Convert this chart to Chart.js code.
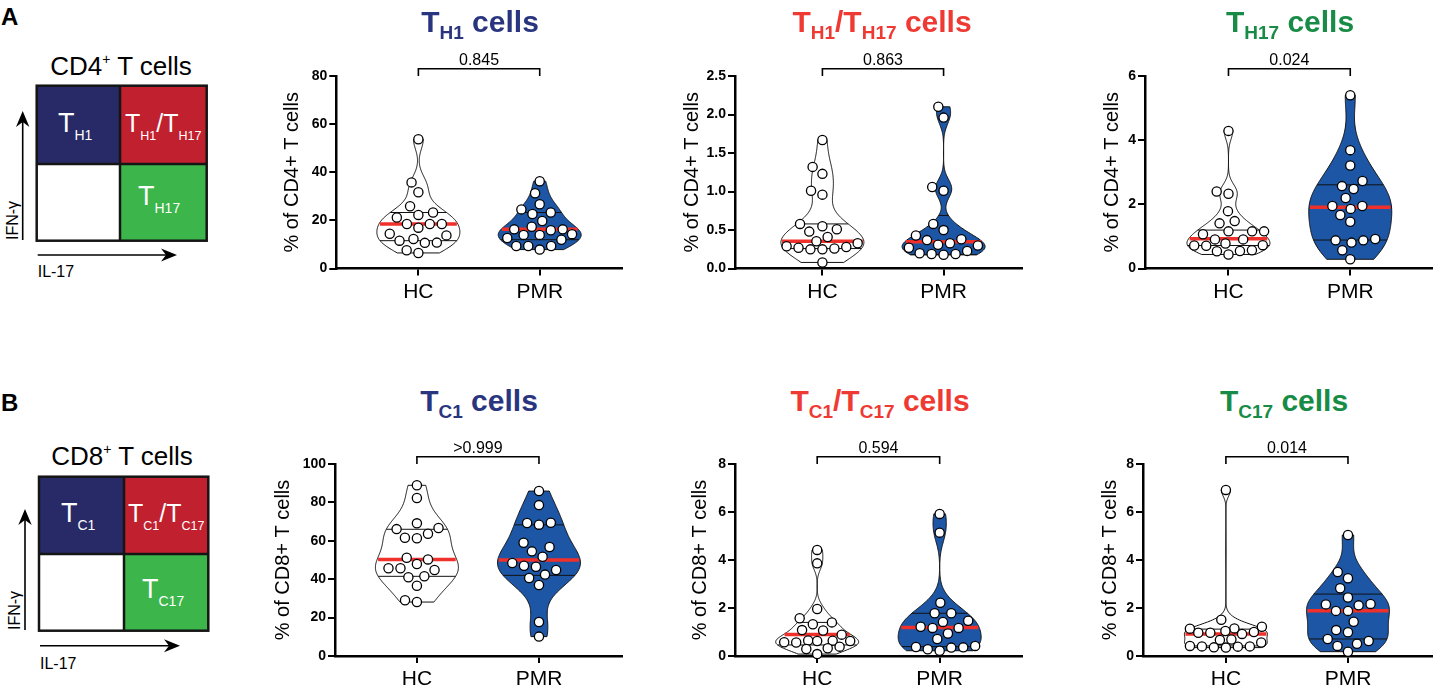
<!DOCTYPE html>
<html><head><meta charset="utf-8">
<title>T helper / cytotoxic subsets violin plots</title>
<script src="https://cdn.jsdelivr.net/npm/chart.js@4.4.1/dist/chart.umd.min.js"></script>
<style>
html,body{margin:0;padding:0;background:#fff}
body{width:1436px;height:689px;position:relative;overflow:hidden;font-family:"Liberation Sans",Arial,Helvetica,sans-serif}
canvas{position:absolute}
.title{position:absolute;font-weight:bold;font-size:30px;line-height:30px;white-space:nowrap;transform:translateX(-50%)}
.title sub{font-size:19px;line-height:1;vertical-align:-7px}
svg.schem{position:absolute;left:0;top:0}
</style></head>
<body>
<svg class="schem" width="260" height="689" viewBox="0 0 260 689" font-family="Liberation Sans, Arial, Helvetica, sans-serif">
  <!-- Panel A schematic -->
  <text x="1" y="25" font-size="24" font-weight="bold">A</text>
  <text x="121" y="75" font-size="26" text-anchor="middle">CD4<tspan font-size="14" dy="-11">+</tspan><tspan dy="11"> T cells</tspan></text>
  <rect x="36.7" y="85.7" width="83.3" height="78.3" fill="#272a66"/>
  <rect x="120" y="85.7" width="86.7" height="78.3" fill="#c1202f"/>
  <rect x="120" y="164" width="86.7" height="76.7" fill="#3cb54a"/>
  <rect x="36.7" y="85.7" width="170" height="155" fill="none" stroke="#151515" stroke-width="2.5"/>
  <line x1="120" y1="85.7" x2="120" y2="240.7" stroke="#151515" stroke-width="2.5"/>
  <line x1="36.7" y1="164" x2="206.7" y2="164" stroke="#151515" stroke-width="2.5"/>
  <text x="58" y="132" font-size="27" fill="#fff">T<tspan font-size="14" dy="8">H1</tspan></text>
  <text x="125" y="132" font-size="25" fill="#fff">T<tspan font-size="12.5" dy="8">H1</tspan><tspan dy="-8">/T</tspan><tspan font-size="12.5" dy="8">H17</tspan></text>
  <text x="138" y="205" font-size="27" fill="#fff">T<tspan font-size="14" dy="8">H17</tspan></text>
  <line x1="22.7" y1="240" x2="22.7" y2="118" stroke="#000" stroke-width="1.6"/>
  <polygon points="22.7,111 16,127 22.7,122 29.4,127" fill="#000"/>
  <line x1="37.7" y1="255" x2="170" y2="255" stroke="#000" stroke-width="1.6"/>
  <polygon points="177,255 161,248.5 166,255 161,261.5" fill="#000"/>
  <text transform="translate(17.5,240) rotate(-90)" font-size="16">IFN-γ</text>
  <text x="37.7" y="277" font-size="16">IL-17</text>

  <!-- Panel B schematic -->
  <text x="1" y="411" font-size="24" font-weight="bold">B</text>
  <text x="122" y="465" font-size="26" text-anchor="middle">CD8<tspan font-size="14" dy="-11">+</tspan><tspan dy="11"> T cells</tspan></text>
  <rect x="39" y="476.7" width="85" height="77.3" fill="#272a66"/>
  <rect x="124" y="476.7" width="84.3" height="77.3" fill="#c1202f"/>
  <rect x="124" y="554" width="84.3" height="76.7" fill="#3cb54a"/>
  <rect x="39" y="476.7" width="169.3" height="154" fill="none" stroke="#151515" stroke-width="2.5"/>
  <line x1="124" y1="476.7" x2="124" y2="630.7" stroke="#151515" stroke-width="2.5"/>
  <line x1="39" y1="554" x2="208.3" y2="554" stroke="#151515" stroke-width="2.5"/>
  <text x="61" y="522" font-size="27" fill="#fff">T<tspan font-size="14" dy="8">C1</tspan></text>
  <text x="128" y="522" font-size="25" fill="#fff">T<tspan font-size="12.5" dy="8">C1</tspan><tspan dy="-8">/T</tspan><tspan font-size="12.5" dy="8">C17</tspan></text>
  <text x="142" y="598" font-size="27" fill="#fff">T<tspan font-size="14" dy="8">C17</tspan></text>
  <line x1="25" y1="630" x2="25" y2="516" stroke="#000" stroke-width="1.6"/>
  <polygon points="25,509 18.3,525 25,520 31.7,525" fill="#000"/>
  <line x1="40" y1="645.7" x2="173" y2="645.7" stroke="#000" stroke-width="1.6"/>
  <polygon points="180,645.7 164,639.2 169,645.7 164,652.2" fill="#000"/>
  <text transform="translate(19.5,630) rotate(-90)" font-size="16">IFN-γ</text>
  <text x="40" y="669" font-size="16">IL-17</text>
</svg>

<canvas id="c0"></canvas><canvas id="c1"></canvas><canvas id="c2"></canvas>
<canvas id="c3"></canvas><canvas id="c4"></canvas><canvas id="c5"></canvas>

<div class="title" style="left:480px;top:6.6px;color:#2a3580">T<sub>H1</sub> cells</div>
<div class="title" style="left:882px;top:6.6px;color:#ef3a34">T<sub>H1</sub>/T<sub>H17</sub> cells</div>
<div class="title" style="left:1290px;top:6.6px;color:#188c46">T<sub>H17</sub> cells</div>
<div class="title" style="left:479px;top:385.6px;color:#2a3580">T<sub>C1</sub> cells</div>
<div class="title" style="left:880px;top:385.6px;color:#ef3a34">T<sub>C1</sub>/T<sub>C17</sub> cells</div>
<div class="title" style="left:1284px;top:385.6px;color:#188c46">T<sub>C17</sub> cells</div>

<script>
// ---------------- DATA ----------------
const categories = ['HC', 'PMR'];
const yTitles = ['% of CD4+ T cells', '% of CD8+ T cells'];
const pValues = ['0.845', '0.863', '0.024', '>0.999', '0.594', '0.014'];

// A: TH1 cells (% of CD4+ T cells)
const th1HC  = [53.7,35.8,31.7,25.9,23.3,22.3,21.2,18.5,18.5,18.5,17.0,14.5,13.8,12.3,11.6,10.8,10.7,7.6,6.5];
const th1PMR = [36.3,31.3,26.7,24.6,23.3,22.7,19.8,17.4,16.3,16.3,15.9,14.3,14.0,14.0,12.7,12.0,9.4,9.4,9.4,7.9];
const th1HCStats  = [11.6, 18.5, 23.3];   // Q1, median, Q3
const th1PMRStats = [12.0, 16.3, 23.3];
const th1Ticks = [0, 20, 40, 60, 80];

// A: TH1/TH17 cells
const th1th17HC  = [1.67,1.32,1.23,1.01,0.96,0.58,0.55,0.51,0.48,0.41,0.355,0.33,0.29,0.28,0.27,0.26,0.25,0.25,0.08];
const th1th17PMR = [2.10,1.96,1.06,1.01,0.58,0.50,0.43,0.38,0.37,0.33,0.31,0.30,0.27,0.23,0.20,0.19,0.19,0.18];
const th1th17HCStats  = [0.26, 0.355, 0.58];
const th1th17PMRStats = [0.18, 0.35, 0.69];
const th1th17Ticks = [0, 0.5, 1.0, 1.5, 2.0, 2.5];

// A: TH17 cells
const th17HC  = [4.29,2.40,2.33,1.79,1.48,1.41,1.16,1.16,1.16,1.07,0.91,0.91,0.78,0.73,0.72,0.71,0.57,0.55,0.54,0.44];
const th17PMR = [5.40,3.69,3.21,2.73,2.57,2.48,2.20,1.95,1.95,1.86,1.67,1.46,0.92,0.88,0.88,0.81,0.57,0.29];
const th17HCStats  = [0.72, 0.93, 1.20];
const th17PMRStats = [0.89, 1.91, 2.61];
const th17Ticks = [0, 2, 4, 6];

// B: TC1 cells (% of CD8+ T cells)
const tc1HC  = [88.9,82.3,69.1,66.7,66.1,63.7,61.6,61.3,51.2,50.3,47.9,45.7,45.7,44.8,41.5,41.0,36.6,29.0,28.1];
const tc1PMR = [85.9,78.6,69.4,69.3,68.4,59.0,56.8,54.5,51.7,48.4,47.0,46.5,44.8,42.4,40.6,37.0,17.7,10.1];
const tc1HCStats  = [41.5, 50.2, 66.0];
const tc1PMRStats = [42.0, 50.0, 68.3];
const tc1Ticks = [0, 20, 40, 60, 80, 100];

// B: TC1/TC17 cells
const tc1tc17HC  = [4.42,3.86,1.96,1.57,1.40,1.32,1.08,1.06,0.89,0.65,0.64,0.625,0.625,0.57,0.56,0.39,0.32,0.29,0.08];
const tc1tc17PMR = [5.92,5.14,2.22,1.78,1.78,1.47,1.42,1.22,1.17,1.17,0.94,0.71,0.42,0.375,0.36,0.35,0.28,0.22];
const tc1tc17HCStats  = [0.46, 0.90, 1.40];
const tc1tc17PMRStats = [0.39, 1.19, 1.78];
const tc1tc17Ticks = [0, 2, 4, 6, 8];

// B: TC17 cells
const tc17HC  = [6.92,1.51,1.22,1.15,1.14,1.04,1.00,0.97,0.97,0.92,0.69,0.67,0.56,0.42,0.40,0.40,0.39,0.36,0.35];
const tc17PMR = [5.04,3.50,3.24,2.82,2.44,2.17,2.15,2.11,1.88,1.88,1.43,1.08,0.99,0.71,0.625,0.51,0.42,0.18];
const tc17HCStats  = [0.42, 0.92, 1.12];
const tc17PMRStats = [0.71, 1.89, 2.58];
const tc17Ticks = [0, 2, 4, 6, 8];

// ---------------- STYLE / LAYOUT ----------------
const FONT = '"Liberation Sans", Arial, Helvetica, sans-serif';
const groupFill = ['#ffffff', '#1d56a5'];
const panels = [
  {id:'c0', vals:[th1HC, th1PMR], stats:[th1HCStats, th1PMRStats], ticks:th1Ticks, dec:0, p:pValues[0], yt:yTitles[0], ax:336,  top:75.7, bot:268.3, tx:291.7, xmin:0.3236, xmax:2.679, dashed:false},
  {id:'c1', vals:[th1th17HC, th1th17PMR], stats:[th1th17HCStats, th1th17PMRStats], ticks:th1th17Ticks, dec:1, p:pValues[1], yt:yTitles[0], ax:735, top:75.7, bot:268.3, tx:692, xmin:0.2786, xmax:2.648, dashed:false},
  {id:'c2', vals:[th17HC, th17PMR], stats:[th17HCStats, th17PMRStats], ticks:th17Ticks, dec:0, p:pValues[2], yt:yTitles[0], ax:1145, top:75.7, bot:268.3, tx:1112, xmin:0.3146, xmax:2.672, dashed:false},
  {id:'c3', vals:[tc1HC, tc1PMR], stats:[tc1HCStats, tc1PMRStats], ticks:tc1Ticks, dec:0, p:pValues[3], yt:yTitles[1], ax:335, top:464, bot:656, tx:283, xmin:0.329, xmax:2.681, dashed:true},
  {id:'c4', vals:[tc1tc17HC, tc1tc17PMR], stats:[tc1tc17HCStats, tc1tc17PMRStats], ticks:tc1tc17Ticks, dec:0, p:pValues[4], yt:yTitles[1], ax:735, top:464, bot:656, tx:700, xmin:0.329, xmax:2.673, dashed:true},
  {id:'c5', vals:[tc17HC, tc17PMR], stats:[tc17HCStats, tc17PMRStats], ticks:tc17Ticks, dec:0, p:pValues[5], yt:yTitles[1], ax:1143, top:464, bot:656, tx:1110, xmin:0.321, xmax:2.689, dashed:true}
];
const AXIS_END = {336:625, 735:1025, 1145:1435, 335:625, 1143:1435};
const PAD_TOP = 40, XAXIS_H = 44, PAD_RIGHT = 3;
const HALF_W_PX = 41.5;

function makeKde(vals) {
  const n = vals.length;
  const mean = vals.reduce((a, b) => a + b, 0) / n;
  const sd = Math.sqrt(vals.reduce((a, b) => a + (b - mean) ** 2, 0) / (n - 1));
  const s = [...vals].sort((a, b) => a - b);
  const q = p => { const i = (n - 1) * p, lo = Math.floor(i); return s[lo] + (s[Math.min(lo + 1, n - 1)] - s[lo]) * (i - lo); };
  const iqr = q(0.75) - q(0.25);
  const h = 0.9 * Math.min(sd, iqr / 1.34) * Math.pow(n, -0.2);
  return v => vals.reduce((a, x) => a + Math.exp(-0.5 * ((v - x) / h) ** 2), 0);
}

function violinPlugin(P) {
  return {
    id: 'violin',
    beforeDatasetsDraw(chart) {
      const {ctx, scales: {x, y}} = chart;
      P.vals.forEach((vals, gi) => {
        const cx = x.getPixelForValue(gi + 1);
        const kde = makeKde(vals);
        const lo = Math.min(...vals), hi = Math.max(...vals);
        const N = 160, pts = [];
        let maxD = 0;
        for (let k = 0; k <= N; k++) {
          const v = lo + (hi - lo) * k / N;
          const d = kde(v);
          maxD = Math.max(maxD, d);
          pts.push([v, d]);
        }
        const wAt = v => kde(v) / maxD * HALF_W_PX;
        ctx.save();
        ctx.beginPath();
        pts.forEach(([v, d], k) => {
          const px = cx - d / maxD * HALF_W_PX, py = y.getPixelForValue(v);
          k ? ctx.lineTo(px, py) : ctx.moveTo(px, py);
        });
        for (let k = pts.length - 1; k >= 0; k--) {
          const [v, d] = pts[k];
          ctx.lineTo(cx + d / maxD * HALF_W_PX, y.getPixelForValue(v));
        }
        ctx.closePath();
        ctx.fillStyle = groupFill[gi];
        ctx.fill();
        ctx.strokeStyle = '#111';
        ctx.lineWidth = 1;
        ctx.stroke();
        const [q1, med, q3] = P.stats[gi];
        [q1, q3].forEach(v => {
          const w = wAt(v), py = y.getPixelForValue(v);
          ctx.beginPath(); ctx.moveTo(cx - w, py); ctx.lineTo(cx + w, py);
          ctx.lineWidth = 1; ctx.strokeStyle = '#111'; ctx.stroke();
        });
        const wm = wAt(med) - 1, pm = y.getPixelForValue(med);
        ctx.beginPath(); ctx.moveTo(cx - wm, pm); ctx.lineTo(cx + wm, pm);
        ctx.lineWidth = 3.5; ctx.strokeStyle = '#f0302a'; ctx.stroke();
        ctx.restore();
      });
    }
  };
}

function bracketPlugin(P) {
  return {
    id: 'bracket',
    afterDraw(chart) {
      const {ctx, chartArea, scales: {x}} = chart;
      const x1 = x.getPixelForValue(1), x2 = x.getPixelForValue(2);
      const yb = chartArea.top - 7.3, yt = chartArea.top;
      ctx.save();
      ctx.strokeStyle = '#000'; ctx.lineWidth = 1.6;
      ctx.beginPath(); ctx.moveTo(x1, yt); ctx.lineTo(x1, yb); ctx.lineTo(x2, yb); ctx.lineTo(x2, yt); ctx.stroke();
      ctx.fillStyle = '#000'; ctx.font = '16px ' + FONT;
      ctx.textAlign = 'center'; ctx.textBaseline = 'alphabetic';
      ctx.fillText(P.p, (x1 + x2) / 2, yb - 4);
      ctx.restore();
    }
  };
}

// beeswarm layout of the points (pixel space), bounded so points stay within the violin
function swarm(chart, P) {
  const {x, y} = chart.scales;
  const pxPerX = x.getPixelForValue(2) - x.getPixelForValue(1);
  const D = 12, MAXX = 36;
  chart.data.datasets.forEach((ds, gi) => {
    const vals = P.vals[gi];
    const order = vals.map((v, j) => j).sort((a, b) => vals[a] - vals[b]);
    const placed = [], xs = new Array(vals.length);
    order.forEach(j => {
      const py = y.getPixelForValue(vals[j]);
      const near = placed.filter(p => Math.abs(p.y - py) < D);
      const cands = [0];
      near.forEach(p => { const dx = Math.sqrt(D * D - (p.y - py) ** 2); cands.push(p.x + dx, p.x - dx); });
      cands.sort((a, b) => Math.abs(a) - Math.abs(b) || a - b);
      let best = cands.find(c => Math.abs(c) <= MAXX && near.every(p => (p.x - c) ** 2 + (p.y - py) ** 2 >= D * D - 0.01));
      if (best === undefined) {
        let bestScore = -1;
        for (let c = -MAXX; c <= MAXX; c += 0.5) {
          const m = Math.min(...near.map(p => Math.hypot(p.x - c, p.y - py)));
          if (m > bestScore + 1e-6 || (Math.abs(m - bestScore) < 1e-6 && Math.abs(c) < Math.abs(best))) { bestScore = m; best = c; }
        }
      }
      placed.push({x: best, y: py});
      xs[j] = best;
    });
    ds.data = vals.map((v, j) => ({x: gi + 1 + xs[j] / pxPerX, y: v}));
  });
  chart.update('none');
}

panels.forEach(P => {
  const cv = document.getElementById(P.id);
  const canvasLeft = P.tx - 12;
  const yW = P.ax - canvasLeft;
  const plotW = AXIS_END[P.ax] - P.ax;
  const W = Math.round(yW + plotW + PAD_RIGHT);
  const H = Math.round(PAD_TOP + (P.bot - P.top) + XAXIS_H);
  cv.style.left = canvasLeft + 'px';
  cv.style.top = (P.top - PAD_TOP) + 'px';
  cv.width = W; cv.height = H;
  cv.style.width = W + 'px'; cv.style.height = H + 'px';
  const xAxisH = H - PAD_TOP - (P.bot - P.top);

  const chart = new Chart(cv, {
    type: 'scatter',
    data: {
      datasets: P.vals.map((vals, gi) => ({
        label: categories[gi],
        data: vals.map(v => ({x: gi + 1, y: v})),
        pointRadius: 4.6,
        pointHoverRadius: 4.6,
        pointBackgroundColor: '#ffffff',
        pointBorderColor: '#000000',
        pointBorderWidth: 1.3,
        clip: false
      }))
    },
    options: {
      responsive: false,
      animation: false,
      events: [],
      layout: {padding: {top: PAD_TOP, right: W - yW - plotW, left: 0, bottom: 0}},
      plugins: {legend: {display: false}, tooltip: {enabled: false}},
      scales: {
        x: {
          type: 'linear', min: P.xmin, max: P.xmax,
          afterBuildTicks: s => { s.ticks = [{value: 1}, {value: 2}]; },
          afterFit: s => { s.height = xAxisH; },
          ticks: {callback: v => categories[Math.round(v) - 1], font: {family: FONT, size: 21}, color: '#000', padding: 4, autoSkip: false, maxRotation: 0},
          grid: {display: true, drawOnChartArea: false, drawTicks: true, tickLength: 7, color: '#000', lineWidth: 2},
          border: {display: true, color: '#000', width: 2.5, dash: P.dashed ? [4, 1.5] : []}
        },
        y: {
          min: P.ticks[0], max: P.ticks[P.ticks.length - 1],
          afterBuildTicks: s => { s.ticks = P.ticks.map(v => ({value: v})); },
          afterFit: s => { s.width = yW; },
          ticks: {callback: v => Number(v).toFixed(P.dec), font: {family: FONT, size: 14, weight: 'bold'}, color: '#000', padding: 2},
          grid: {display: true, drawOnChartArea: false, drawTicks: true, tickLength: 7, color: '#000', lineWidth: 2},
          border: {display: true, color: '#000', width: 2.5},
          title: {display: true, text: P.yt, font: {family: FONT, size: 20}, color: '#000', padding: 0}
        }
      }
    },
    plugins: [violinPlugin(P), bracketPlugin(P)]
  });
  swarm(chart, P);
});
</script>
</body></html>
